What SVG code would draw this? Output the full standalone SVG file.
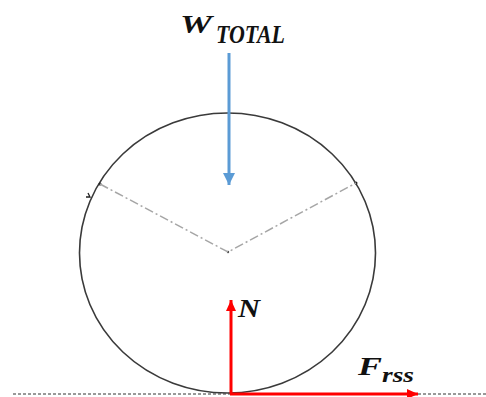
<svg xmlns="http://www.w3.org/2000/svg" width="486" height="397" viewBox="0 0 486 397">
<style>
.lbl{font-family:"Liberation Serif","DejaVu Serif",serif;font-weight:bold;font-style:italic;fill:#111}
</style>
<defs>
<marker id="ab" markerWidth="13" markerHeight="12" refX="12" refY="6" orient="auto" markerUnits="userSpaceOnUse"><path d="M0,0 L12,6 L0,12 Z" fill="#5b9bd5"/></marker>
<marker id="ar" markerWidth="12" markerHeight="10" refX="11" refY="5" orient="auto" markerUnits="userSpaceOnUse"><path d="M0,0 L11,5 L0,10 Z" fill="#ff0000"/></marker>
</defs>
<rect width="486" height="397" fill="#fff"/>
<g id="wheel">
<ellipse cx="227.5" cy="253" rx="148" ry="140" fill="none" stroke="#3a3a3a" stroke-width="1.6"/>
<path d="M88,193 L90,197 L86,197" fill="none" stroke="#222" stroke-width="1.3"/>
<circle cx="100" cy="184" r="1.5" fill="#222"/>
<circle cx="356" cy="183" r="1.5" fill="#222"/>
<circle cx="228" cy="252" r="1.2" fill="#444"/>
</g>
<g id="ground">
<line x1="13" y1="394" x2="486" y2="394" stroke="#333" stroke-width="1" stroke-dasharray="3 2"/>
</g>
<g id="connectors">
<path d="M100,184 L228,252 L356,183" fill="none" stroke="#a6a6a6" stroke-width="1.5" stroke-dasharray="9 3 2 3"/>
<line x1="229" y1="53" x2="229" y2="185" stroke="#5b9bd5" stroke-width="3" marker-end="url(#ab)"/>
<line x1="231" y1="394" x2="231" y2="300" stroke="#ff0000" stroke-width="3" marker-end="url(#ar)"/>
<line x1="230" y1="394" x2="418" y2="394" stroke="#ff0000" stroke-width="3" marker-end="url(#ar)"/>
</g>
<g id="label-w">
<text class="lbl" x="180" y="33" font-size="26" textLength="32" lengthAdjust="spacingAndGlyphs">W</text>
<text class="lbl" x="216" y="43" font-size="25" textLength="69" lengthAdjust="spacingAndGlyphs">TOTAL</text>
</g>
<g id="label-n">
<text class="lbl" x="238" y="317" font-size="26" textLength="22" lengthAdjust="spacingAndGlyphs">N</text>
</g>
<g id="label-f">
<text class="lbl" x="358" y="375" font-size="26" textLength="24" lengthAdjust="spacingAndGlyphs">F</text>
<text class="lbl" x="382" y="382" font-size="20" textLength="32" lengthAdjust="spacingAndGlyphs">rss</text>
</g>
</svg>
